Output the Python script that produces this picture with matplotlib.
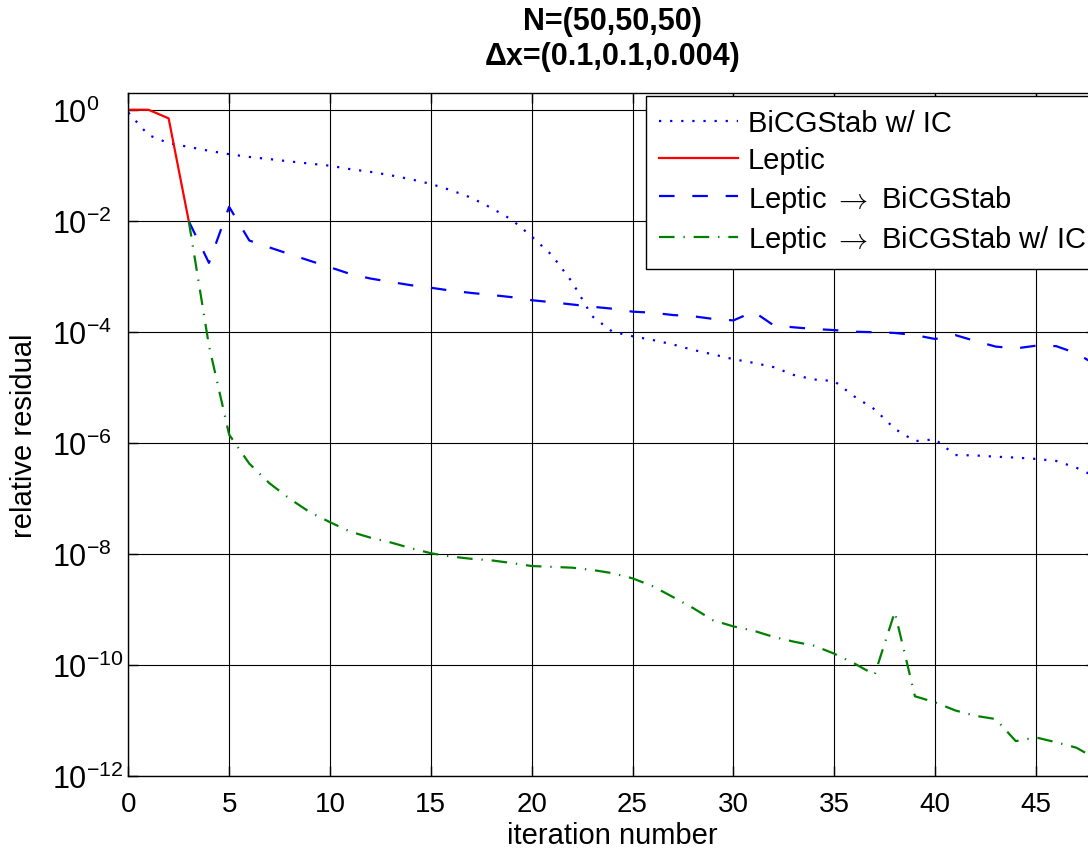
import matplotlib
matplotlib.use('Agg')
import matplotlib.pyplot as plt
from matplotlib.ticker import NullLocator

plt.rcParams['font.family'] = ['Liberation Sans', 'DejaVu Sans']
plt.rcParams['mathtext.fontset'] = 'custom'
plt.rcParams['mathtext.rm'] = 'Liberation Sans'

# relative residual per iteration
it_bicg_ic = list(range(0, 49))
res_bicg_ic = [0.89, 0.35, 0.25, 0.214, 0.182, 0.158, 0.141, 0.129, 0.117, 0.107,
               9.8e-2, 8.5e-2, 7.6e-2, 6.6e-2, 5.6e-2, 4.6e-2, 3.55e-2, 2.6e-2, 1.7e-2, 1.05e-2,
               5.2e-3, 2.4e-3, 7.9e-4, 1.9e-4, 1.0e-4, 8.3e-5, 7.1e-5, 5.9e-5, 4.7e-5, 3.9e-5,
               3.2e-5, 2.75e-5, 2.3e-5, 1.66e-5, 1.38e-5, 1.29e-5, 6.8e-6, 4.0e-6, 1.78e-6, 1.07e-6,
               1.15e-6, 6.0e-7, 5.9e-7, 5.6e-7, 5.4e-7, 5.1e-7, 4.7e-7, 3.55e-7, 2.4e-7]

it_leptic = [0, 1, 2, 3]
res_leptic = [1.0, 1.0, 0.7, 9.8e-3]

it_hybrid = list(range(3, 49))
res_lep_bicg = [9.8e-3, 1.74e-3, 1.78e-2, 4.4e-3, 3.3e-3, 2.5e-3, 1.9e-3, 1.45e-3, 1.1e-3, 9.1e-4,
                7.9e-4, 6.9e-4, 6.2e-4, 5.5e-4, 5.0e-4, 4.6e-4, 4.2e-4, 3.7e-4, 3.4e-4, 3.1e-4,
                2.82e-4, 2.6e-4, 2.3e-4, 2.2e-4, 2.0e-4, 1.9e-4, 1.7e-4, 1.6e-4, 2.3e-4, 1.3e-4,
                1.2e-4, 1.12e-4, 1.07e-4, 1.0e-4, 9.8e-5, 9.5e-5, 8.7e-5, 7.4e-5, 8.7e-5, 6.8e-5,
                5.4e-5, 5.0e-5, 5.6e-5, 5.5e-5, 4.1e-5, 2.5e-5]
res_lep_bicg_ic = [9.8e-3, 5.6e-5, 1.4e-6, 4.2e-7, 1.86e-7, 9.8e-8, 5.6e-8, 3.7e-8, 2.5e-8, 1.95e-8,
                   1.6e-8, 1.26e-8, 1.02e-8, 8.9e-9, 8.1e-9, 7.6e-9, 6.8e-9, 6.0e-9, 5.8e-9, 5.6e-9,
                   5.1e-9, 4.47e-9, 3.6e-9, 2.6e-9, 1.66e-9, 1.05e-9, 6.3e-10, 4.9e-10, 4.1e-10, 3.16e-10,
                   2.6e-10, 2.2e-10, 1.58e-10, 1.05e-10, 6.6e-11, 8.9e-10, 2.7e-11, 2.1e-11, 1.5e-11, 1.2e-11,
                   1.05e-11, 4.2e-12, 4.9e-12, 4.0e-12, 3.2e-12, 2.0e-12]

labels = ['BiCGStab w/ IC', 'Leptic', r'Leptic $\rightarrow$ BiCGStab',
          r'Leptic $\rightarrow$ BiCGStab w/ IC']

fig = plt.figure(figsize=(10.88, 8.54), dpi=100)
# axes runs a bit past the right edge, like the cropped original
ax = fig.add_axes([0.1179, 0.0905, 0.8899, 0.7994])

lw = 1.6
ax.plot(it_bicg_ic, res_bicg_ic, color='b', lw=lw, linestyle=(0, (1, 4.0)), label=labels[0])
ax.plot(it_leptic, res_leptic, color='r', lw=lw, linestyle='-', label=labels[1])
ax.plot(it_hybrid, res_lep_bicg, color='b', lw=lw, linestyle=(0, (7, 8)), label=labels[2])
ax.plot(it_hybrid, res_lep_bicg_ic, color=(0, 0.5, 0), lw=lw,
        linestyle=(0, (7, 4, 0.6, 4)), label=labels[3])

ax.set_yscale('log')
ax.set_xlim(0, 48)
ax.set_ylim(1e-12, 2)
ax.set_xticks(range(0, 50, 5))
ax.set_yticks([1e0, 1e-2, 1e-4, 1e-6, 1e-8, 1e-10, 1e-12])
ax.yaxis.set_minor_locator(NullLocator())
ax.tick_params(direction='in', length=7, width=1, top=True, right=True)
ax.tick_params(axis='x', pad=11, labelsize=20)
# matlab puts the "10" of every label in the same column
ax.tick_params(axis='y', pad=55, labelsize=22)
plt.setp(ax.get_yticklabels(), ha='left')
ax.grid(True, color='k', lw=0.8)
for s in ax.spines.values():
    s.set_linewidth(1.0)

ax.set_title('N=(50,50,50)\n\u0394x=(0.1,0.1,0.004)', fontsize=22, fontweight='bold', pad=21)
ax.set_xlabel('iteration number', fontsize=21, labelpad=3)
ax.set_ylabel('relative residual', fontsize=21, labelpad=10)

leg = ax.legend(loc='upper left', bbox_to_anchor=(0.5347, 0.9956), borderaxespad=0,
                fontsize=21, handlelength=2.7, handletextpad=0.35, labelspacing=0.3,
                borderpad=0.45, fancybox=False, framealpha=1, edgecolor='k')
leg.get_frame().set_linewidth(1.0)
for t in leg.get_texts():
    t.set_math_fontfamily('cm')  # long tex arrow

fig.savefig('out.png', dpi=100)
